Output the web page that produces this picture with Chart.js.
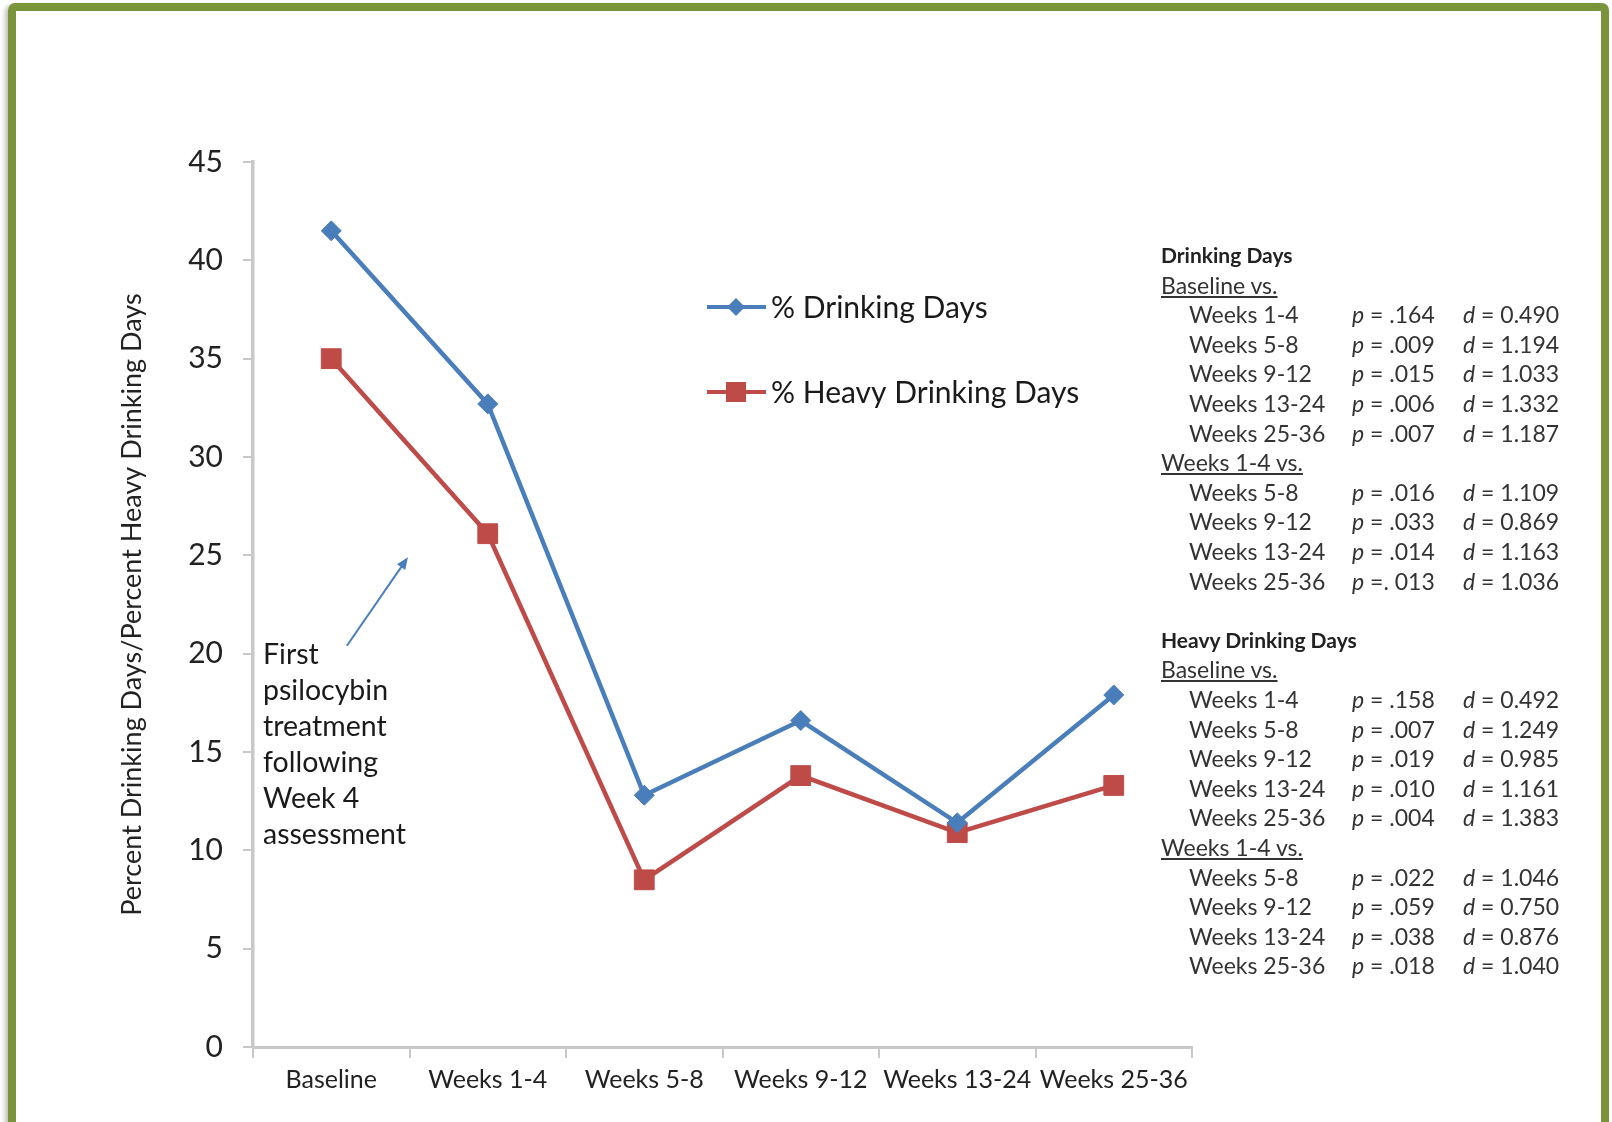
<!DOCTYPE html>
<html>
<head>
<meta charset="utf-8">
<title>Percent drinking days</title>
<script src="https://cdn.jsdelivr.net/npm/chart.js@4.4.1/dist/chart.umd.min.js"></script>
<style>
  html, body { margin: 0; padding: 0; background: #fff; }
  body { width: 1612px; height: 1122px; position: relative; overflow: hidden; font-family: Lato, "Open Sans", sans-serif; }
  #frame { position: absolute; left: 8px; top: 3px; width: 1601px; height: 1132px; box-sizing: border-box;
           border: 8px solid #7a943c; border-radius: 7px; box-shadow: -3px 2px 4px rgba(0,0,0,0.25); }
  #chart { position: absolute; left: 0; top: 0; }
  .note { position: absolute; left: 263px; top: 635px; font-size: 28.5px; line-height: 36px; color: #1a1a1a; }
  #stats div { position: absolute; white-space: nowrap; font-size: 23px; line-height: 30px; color: #333; }
  #stats .head { font-weight: bold; font-size: 21px; color: #222; }
  #stats .sub { text-decoration: underline; }
</style>
</head>
<body>
<div id="frame"></div>
<canvas id="chart" width="1612" height="1122"></canvas>
<div class="note">First<br>psilocybin<br>treatment<br>following<br>Week 4<br>assessment</div>
<div id="stats"></div>
<script>
// Chart data
const categories = ["Baseline", "Weeks 1-4", "Weeks 5-8", "Weeks 9-12", "Weeks 13-24", "Weeks 25-36"];
const drinkingDays = [41.5, 32.7, 12.8, 16.6, 11.4, 17.9];
const heavyDrinkingDays = [35.0, 26.1, 8.5, 13.8, 10.9, 13.3];
const yTicks = [0, 5, 10, 15, 20, 25, 30, 35, 40, 45];

// Comparison statistics (right-hand panel)
const vsBaseline = ["Weeks 1-4", "Weeks 5-8", "Weeks 9-12", "Weeks 13-24", "Weeks 25-36"];
const vsWeek4 = ["Weeks 5-8", "Weeks 9-12", "Weeks 13-24", "Weeks 25-36"];
const ddBaselineP = [".164", ".009", ".015", ".006", ".007"];
const ddBaselineD = ["0.490", "1.194", "1.033", "1.332", "1.187"];
const ddWeek4P = [".016", ".033", ".014", ". 013"];
const ddWeek4D = ["1.109", "0.869", "1.163", "1.036"];
const hdBaselineP = [".158", ".007", ".019", ".010", ".004"];
const hdBaselineD = ["0.492", "1.249", "0.985", "1.161", "1.383"];
const hdWeek4P = [".022", ".059", ".038", ".018"];
const hdWeek4D = ["1.046", "0.750", "0.876", "1.040"];

// build the stats panel
const stats = document.getElementById('stats');
let row = 0;
function addLine(text, x, cls) {
  const div = document.createElement('div');
  div.className = cls || '';
  div.style.left = x + 'px';
  div.style.top = (240 + row * 29.6) + 'px';
  div.innerHTML = text;
  stats.appendChild(div);
}
function addBlock(title, baseP, baseD, wkP, wkD) {
  addLine(title, 1161, 'head'); row++;
  addLine('Baseline vs.', 1161, 'sub'); row++;
  vsBaseline.forEach((w, i) => {
    addLine(w, 1189);
    addLine('<i>p</i> = ' + baseP[i], 1352);
    addLine('<i>d</i> = ' + baseD[i], 1463);
    row++;
  });
  addLine('Weeks 1-4 vs.', 1161, 'sub'); row++;
  vsWeek4.forEach((w, i) => {
    addLine(w, 1189);
    addLine('<i>p</i> =' + (wkP[i].startsWith('. ') ? '' : ' ') + wkP[i], 1352);
    addLine('<i>d</i> = ' + wkD[i], 1463);
    row++;
  });
}
addBlock('Drinking Days', ddBaselineP, ddBaselineD, ddWeek4P, ddWeek4D);
row++;
addBlock('Heavy Drinking Days', hdBaselineP, hdBaselineD, hdWeek4P, hdWeek4D);

// legend drawn inside the plot, using the dataset styles
const seriesKey = {
  id: 'seriesKey',
  afterDraw(chart) {
    const ctx = chart.ctx;
    chart.data.datasets.forEach((ds, i) => {
      const y = 307 + i * 85;
      ctx.save();
      ctx.strokeStyle = ds.borderColor;
      ctx.fillStyle = ds.borderColor;
      ctx.lineWidth = 4;
      ctx.beginPath();
      ctx.moveTo(707, y);
      ctx.lineTo(766, y);
      ctx.stroke();
      ctx.beginPath();
      if (ds.pointStyle === 'rect') {
        ctx.rect(726, y - 10, 20, 20);
      } else {
        ctx.moveTo(736, y - 9); ctx.lineTo(745, y); ctx.lineTo(736, y + 9); ctx.lineTo(727, y);
        ctx.closePath();
      }
      ctx.fill();
      ctx.fillStyle = '#1a1a1a';
      ctx.font = '30px Lato';
      ctx.textBaseline = 'middle';
      ctx.fillText(ds.label, 771, y + 1);
      ctx.restore();
    });
  }
};

// arrow pointing at the first treatment
const treatmentArrow = {
  id: 'treatmentArrow',
  afterDatasetsDraw(chart) {
    const { ctx, scales: { x, y } } = chart;
    const x0 = x.getPixelForValue(0.1), y0 = y.getPixelForValue(20.4);
    const x1 = x.getPixelForValue(0.49), y1 = y.getPixelForValue(24.9);
    const a = Math.atan2(y1 - y0, x1 - x0);
    ctx.save();
    ctx.strokeStyle = '#4a7ebb';
    ctx.fillStyle = '#4a7ebb';
    ctx.lineWidth = 2;
    ctx.beginPath();
    ctx.moveTo(x0, y0);
    ctx.lineTo(x1 - 8 * Math.cos(a), y1 - 8 * Math.sin(a));
    ctx.stroke();
    ctx.beginPath();
    ctx.moveTo(x1, y1);
    ctx.lineTo(x1 - 12 * Math.cos(a) + 5 * Math.sin(a), y1 - 12 * Math.sin(a) - 5 * Math.cos(a));
    ctx.lineTo(x1 - 12 * Math.cos(a) - 5 * Math.sin(a), y1 - 12 * Math.sin(a) + 5 * Math.cos(a));
    ctx.closePath();
    ctx.fill();
    ctx.restore();
  }
};

new Chart(document.getElementById('chart'), {
  type: 'line',
  data: {
    labels: categories,
    datasets: [
      {
        label: '% Drinking Days',
        data: drinkingDays,
        borderColor: '#4a7ebb',
        backgroundColor: '#4a7ebb',
        borderWidth: 4.5,
        pointStyle: 'rectRot',
        pointRadius: 10,
        pointBorderWidth: 1,
        tension: 0
      },
      {
        label: '% Heavy Drinking Days',
        data: heavyDrinkingDays,
        borderColor: '#be4b48',
        backgroundColor: '#be4b48',
        borderWidth: 4.5,
        pointStyle: 'rect',
        pointRadius: 14,
        pointBorderWidth: 1,
        tension: 0
      }
    ]
  },
  options: {
    responsive: false,
    animation: false,
    layout: { padding: { left: 116, top: 162, right: 420, bottom: 0 } },
    plugins: { legend: { display: false }, tooltip: { enabled: false } },
    scales: {
      x: {
        offset: true,
        grid: { offset: true, drawOnChartArea: false, tickLength: 11, color: '#c8c8c8', lineWidth: 2 },
        border: { color: '#c8c8c8', width: 3 },
        ticks: { font: { family: 'Lato', size: 25 }, color: '#222', padding: 7, maxRotation: 0, autoSkip: false },
        afterFit: s => { s.height = 75; }
      },
      y: {
        min: 0,
        max: 45,
        afterBuildTicks: s => { s.ticks = yTicks.map(v => ({ value: v })); },
        grid: { drawOnChartArea: false, tickLength: 10, color: '#c8c8c8', lineWidth: 2 },
        border: { color: '#c8c8c8', width: 3.5 },
        ticks: { font: { family: 'Lato', size: 30 }, color: '#222', padding: 20 },
        title: {
          display: true,
          text: 'Percent Drinking Days/Percent Heavy Drinking Days',
          font: { family: 'Lato', size: 27 },
          color: '#222',
          padding: { top: 0, bottom: 0 }
        },
        afterFit: s => { s.width = 137; }
      }
    }
  },
  plugins: [seriesKey, treatmentArrow]
});
</script>
</body>
</html>
